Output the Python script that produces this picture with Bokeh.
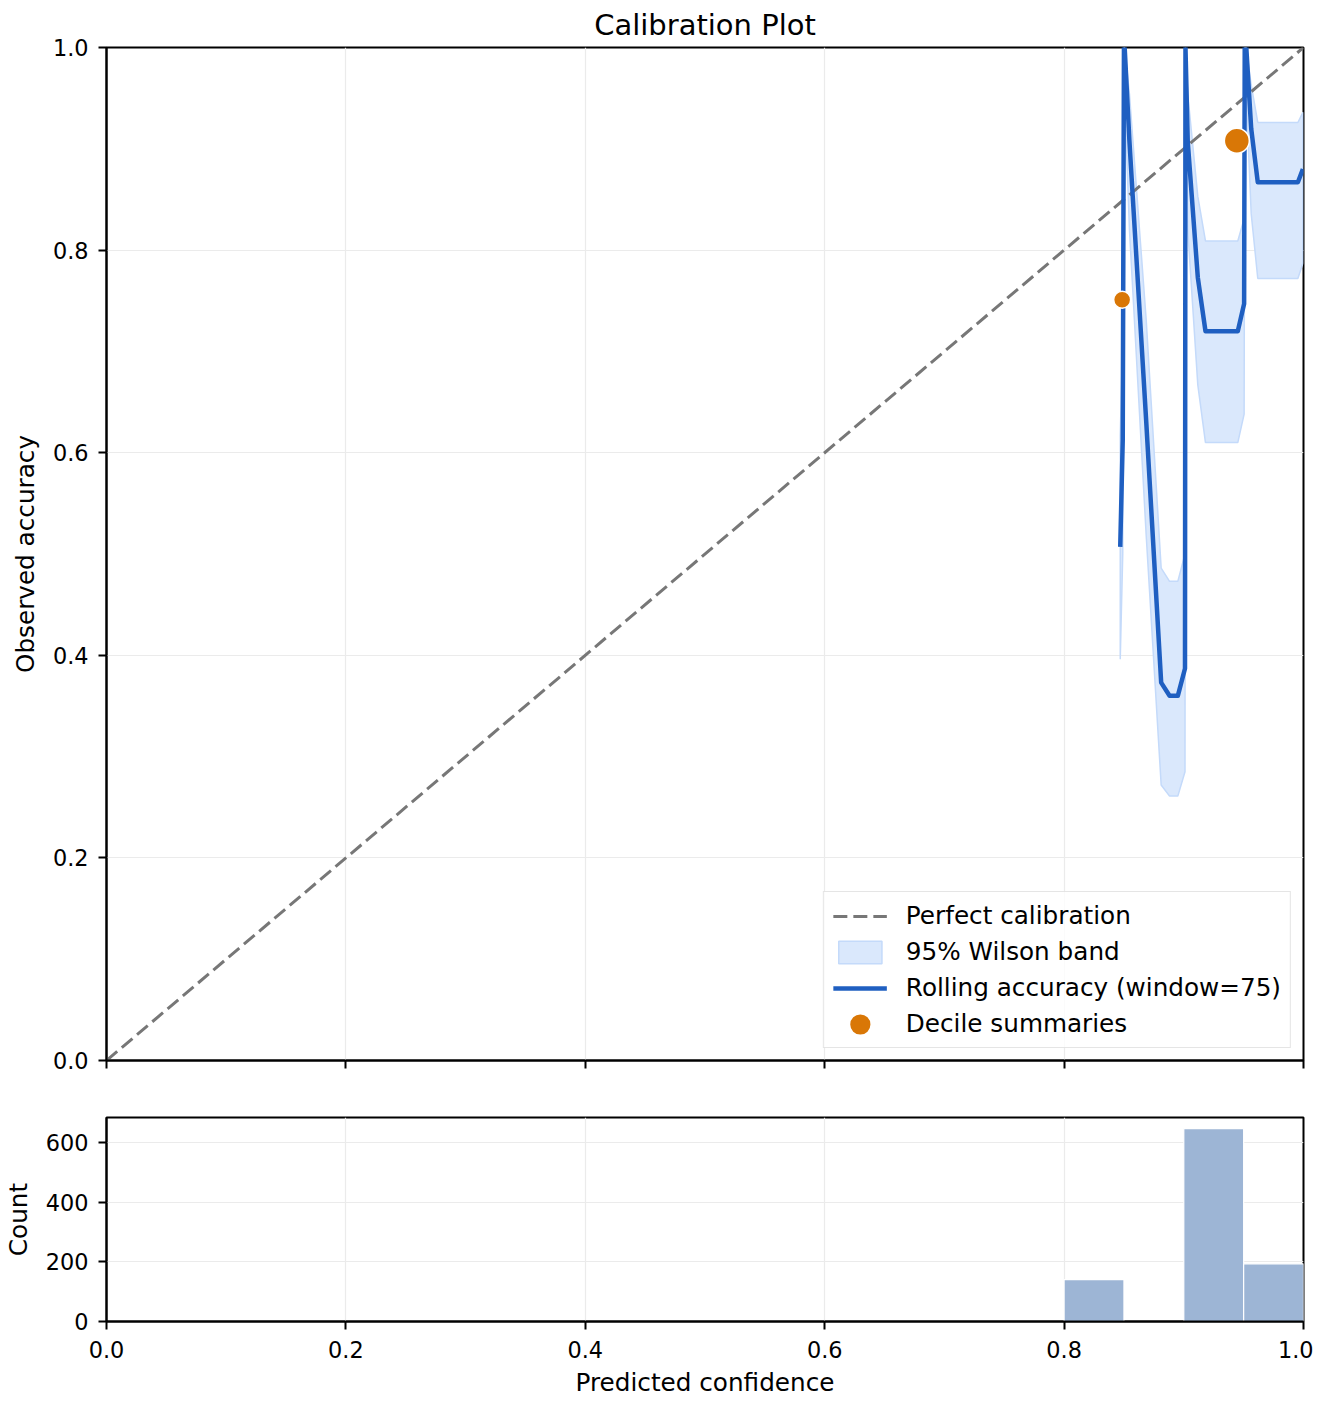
import numpy as np
from bokeh.plotting import figure
from bokeh.models import (ColumnDataSource, Range1d, FixedTicker, PrintfTickFormatter,
                          Legend, LegendItem, CustomJSTickFormatter)
from bokeh.layouts import column
from bokeh.embed import file_html
from bokeh.resources import INLINE

# ---------------- data ----------------
diag_x = [0.0, 1.0]
diag_y = [0.0, 1.0]

roll_conf = [0.8469, 0.8490, 0.8500, 0.8506, 0.8546, 0.8686, 0.8811, 0.8881, 0.8950,
             0.9010, 0.9014, 0.9033, 0.9117, 0.9181, 0.9451, 0.9504, 0.9509, 0.9522,
             0.9563, 0.9618, 0.9953, 0.9995]
roll_acc = [0.507, 0.613, 1.000, 1.000, 0.907, 0.631, 0.373, 0.360, 0.360,
            0.387, 1.000, 0.907, 0.773, 0.720, 0.720, 0.747, 1.000, 1.000,
            0.920, 0.867, 0.867, 0.880]
wilson_lo = [0.396, 0.500, 0.951, 0.951, 0.820, 0.518, 0.272, 0.261, 0.261,
             0.285, 0.951, 0.820, 0.667, 0.610, 0.610, 0.638, 0.951, 0.951,
             0.836, 0.772, 0.772, 0.787]
wilson_hi = [0.617, 0.715, 1.000, 1.000, 0.954, 0.731, 0.486, 0.473, 0.473,
             0.500, 1.000, 0.954, 0.853, 0.809, 0.809, 0.831, 1.000, 1.000,
             0.963, 0.926, 0.926, 0.936]

decile_conf = [0.8485, 0.9443]
decile_acc = [0.751, 0.908]

hist_left = [0.80, 0.85, 0.90, 0.95]
hist_right = [0.85, 0.90, 0.95, 1.00]
hist_count = [140, 0, 646, 193]

x_ticks = [0.0, 0.2, 0.4, 0.6, 0.8, 1.0]
acc_ticks = [0.0, 0.2, 0.4, 0.6, 0.8, 1.0]
count_ticks = [0, 200, 400, 600]

# ---------------- style ----------------
FONT = "DejaVu Sans"
TICK_FS = "22.4px"
LABEL_FS = "24.7px"
GRID = "#ebebeb"
DOT_SIZES = [17, 25]

def style_axes(p):
    p.outline_line_color = "black"
    p.outline_line_width = 2
    for ax in p.axis:
        ax.axis_line_color = "black"
        ax.axis_line_width = 2
        ax.major_tick_line_color = "black"
        ax.major_tick_line_width = 2
        ax.major_tick_out = 8
        ax.major_tick_in = 0
        ax.minor_tick_line_color = None
        ax.major_label_text_font = FONT
        ax.major_label_text_font_size = TICK_FS
        ax.major_label_text_color = "black"
        ax.major_label_standoff = 10
        ax.axis_label_text_font = FONT
        ax.axis_label_text_font_size = LABEL_FS
        ax.axis_label_text_font_style = "normal"
        ax.axis_label_text_color = "black"
        ax.axis_label_standoff = 10
    for g in p.grid:
        g.grid_line_color = GRID
        g.grid_line_width = 1.2

# ---------------- main calibration figure ----------------
p = figure(frame_width=1197, frame_height=1013, output_backend="svg", toolbar_location=None,
           x_range=Range1d(0, 1), y_range=Range1d(0, 1),
           min_border_left=99, min_border_right=10, min_border_top=41, min_border_bottom=20)
p.title.text = "Calibration Plot"
p.title.text_font = FONT
p.title.text_font_size = "29px"
p.title.text_font_style = "normal"
p.title.text_color = "black"
p.title.align = "center"
p.title.standoff = 11
p.title.text_line_height = 0.75

band_x = list(roll_conf) + list(roll_conf[::-1])
band_y = list(wilson_lo) + list(wilson_hi[::-1])
r_band = p.patch(band_x, band_y, fill_color="#dae8fc", fill_alpha=1.0,
                 line_color="#c4dafa", line_width=1.5)
r_diag = p.line(diag_x, diag_y, line_color="#777777", line_width=3, line_dash="14 6")
r_roll = p.line(roll_conf, roll_acc, line_color="#1f5fc1", line_width=4.5, line_join="round")
dsrc = ColumnDataSource(dict(x=decile_conf, y=decile_acc, s=DOT_SIZES))
p.scatter("x", "y", size="s", source=dsrc, fill_color="#d97706", line_color="white",
          line_width=1.5)
# legend-only key (no data drawn): thick outline in same colour enlarges the key dot
r_dot_leg = p.scatter([np.nan], [np.nan], size=12, fill_color="#d97706",
                      line_color="#d97706", line_width=9)

p.xaxis.ticker = FixedTicker(ticks=x_ticks)
p.yaxis.ticker = FixedTicker(ticks=acc_ticks)
p.xaxis.formatter = CustomJSTickFormatter(code="return ''")
p.yaxis.formatter = PrintfTickFormatter(format="%.1f")
p.yaxis.axis_label = "Observed accuracy"
style_axes(p)
p.xaxis.major_label_text_font_size = "0px"
p.xaxis.major_label_standoff = 0

legend = Legend(items=[
    LegendItem(label="Perfect calibration", renderers=[r_diag]),
    LegendItem(label="95% Wilson band", renderers=[r_band]),
    LegendItem(label="Rolling accuracy (window=75)", renderers=[r_roll]),
    LegendItem(label="Decile summaries", renderers=[r_dot_leg]),
], location="bottom_right")
legend.margin = 12
legend.padding = 9
legend.spacing = 7
legend.glyph_width = 54
legend.glyph_height = 28
legend.label_standoff = 19
legend.label_text_font = FONT
legend.label_text_font_size = LABEL_FS
legend.label_text_color = "black"
legend.border_line_color = "#cccccc"
legend.border_line_width = 1.5
legend.background_fill_color = "white"
legend.background_fill_alpha = 0.8
p.add_layout(legend)

# ---------------- histogram figure ----------------
h = figure(frame_width=1197, frame_height=204, output_backend="svg", toolbar_location=None,
           x_range=p.x_range, y_range=Range1d(0, 683),
           min_border_left=99, min_border_right=10, min_border_top=37, min_border_bottom=40)
hsrc = ColumnDataSource(dict(left=hist_left, right=hist_right, top=hist_count,
                             bottom=[0] * len(hist_count)))
h.quad(left="left", right="right", top="top", bottom="bottom", source=hsrc,
       fill_color="#9db5d5", line_color="white", line_width=1.2)
h.xaxis.ticker = FixedTicker(ticks=x_ticks)
h.yaxis.ticker = FixedTicker(ticks=count_ticks)
h.xaxis.formatter = PrintfTickFormatter(format="%.1f")
h.yaxis.axis_label = "Count"
h.xaxis.axis_label = "Predicted confidence"
style_axes(h)
h.xaxis.major_label_standoff = 11
h.xaxis.axis_label_standoff = 7

layout = column(p, h)
open("out.html", "w").write(file_html(layout, INLINE))
